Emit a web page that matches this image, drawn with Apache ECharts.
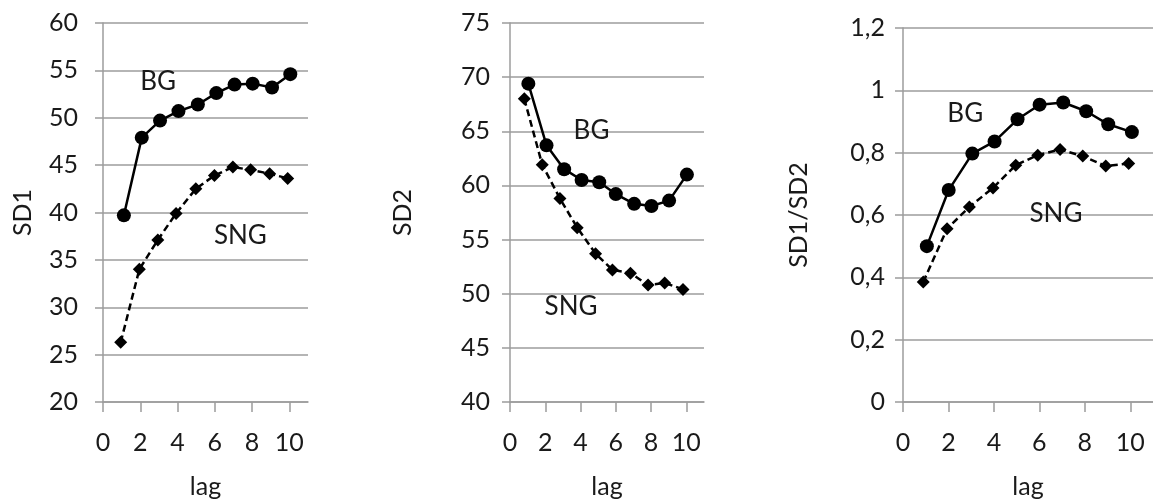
<!DOCTYPE html>
<html>
<head>
<meta charset="utf-8">
<script src="https://cdn.jsdelivr.net/npm/echarts@6/dist/echarts.min.js"></script>
<style>
  html, body { margin: 0; padding: 0; background: #fff; }
  #chart { width: 1153px; height: 504px; }
</style>
</head>
<body>
<div id="chart"></div>
<script>
// values (x of each marker is slightly offset in the original)
var xTicks = [0, 2, 4, 6, 8, 10];

var sd1BgX = [1.12, 2.08, 3.06, 4.05, 5.09, 6.08, 7.06, 8.03, 9.07, 10.05];
var sd1Bg = [39.7, 47.9, 49.7, 50.7, 51.4, 52.6, 53.5, 53.6, 53.2, 54.6];
var sd1SngX = [0.95, 1.95, 2.94, 3.92, 4.98, 5.98, 6.97, 7.92, 8.94, 9.91];
var sd1Sng = [26.3, 34.0, 37.1, 39.9, 42.5, 43.9, 44.8, 44.5, 44.1, 43.6];

var sd2BgX = [1.04, 2.07, 3.07, 4.06, 5.06, 6.0, 7.04, 8.02, 9.02, 10.03];
var sd2Bg = [69.4, 63.7, 61.5, 60.5, 60.3, 59.2, 58.3, 58.1, 58.6, 61.0];
var sd2SngX = [0.81, 1.83, 2.83, 3.81, 4.85, 5.81, 6.83, 7.83, 8.77, 9.81];
var sd2Sng = [68.0, 61.9, 58.8, 56.1, 53.7, 52.2, 51.9, 50.8, 51.0, 50.4];

var ratioBgX = [1.05, 2.01, 3.05, 4.03, 5.04, 6.01, 7.05, 8.06, 9.03, 10.07];
var ratioBg = [0.50, 0.68, 0.797, 0.836, 0.907, 0.954, 0.961, 0.933, 0.891, 0.866];
var ratioSngX = [0.89, 1.94, 2.92, 3.96, 4.96, 5.93, 6.91, 7.91, 8.92, 9.93];
var ratioSng = [0.385, 0.556, 0.626, 0.687, 0.76, 0.792, 0.81, 0.789, 0.757, 0.765];

var FONT = 'Lato, "Open Sans", sans-serif';
var TXT = '#1a1a1a';
var GRID_C = '#9c9c9c';
var FS = 25;

function pairs(xs, ys) {
  return xs.map(function (x, i) { return [x, ys[i]]; });
}

function xAxisFor(idx) {
  return {
    gridIndex: idx, type: 'value', min: 0, max: 11,
    name: 'lag', nameLocation: 'middle', nameGap: 72,
    nameTextStyle: { fontFamily: FONT, fontSize: FS, color: TXT },
    axisLine: { show: true, lineStyle: { color: GRID_C, width: 1.5 } },
    axisTick: { show: true, length: 10, customValues: xTicks, lineStyle: { color: GRID_C, width: 1.5 } },
    axisLabel: { customValues: xTicks, margin: 28, fontFamily: FONT, fontSize: FS, color: TXT },
    splitLine: { show: false }
  };
}

function yAxisFor(idx, name, min, max, step, gap, margin, comma) {
  return {
    gridIndex: idx, type: 'value', min: min, max: max, interval: step,
    name: name, nameLocation: 'middle', nameGap: gap, nameRotate: 90,
    nameTextStyle: { fontFamily: FONT, fontSize: FS, color: TXT },
    axisLine: { show: true, lineStyle: { color: GRID_C, width: 1.5 } },
    axisTick: { show: true, length: 8, lineStyle: { color: GRID_C, width: 1.5 } },
    axisLabel: {
      margin: margin, fontFamily: FONT, fontSize: FS, color: TXT,
      formatter: function (v) { return comma ? String(+v.toFixed(1)).replace('.', ',') : v; }
    },
    splitLine: { show: true, lineStyle: { color: GRID_C, width: 1.5 } }
  };
}

function note(text, coord) {
  return {
    coord: coord, value: text, symbol: 'circle', symbolSize: 0,
    label: { show: true, formatter: text, position: 'inside', fontFamily: FONT, fontSize: 26, color: TXT }
  };
}

function bgSeries(idx, data, notes) {
  return {
    type: 'line', xAxisIndex: idx, yAxisIndex: idx, data: data,
    symbol: 'circle', symbolSize: 14, color: '#000',
    lineStyle: { color: '#000', width: 2.5 }, itemStyle: { color: '#000' },
    animation: false, z: 3,
    markPoint: { data: notes, animation: false }
  };
}

function sngSeries(idx, data) {
  return {
    type: 'line', xAxisIndex: idx, yAxisIndex: idx, data: data,
    symbol: 'diamond', symbolSize: 13, color: '#000',
    lineStyle: { color: '#000', width: 2.5, type: [7, 4] }, itemStyle: { color: '#000' },
    animation: false, z: 3
  };
}

var chart = echarts.init(document.getElementById('chart'));
chart.setOption({
  backgroundColor: '#fff',
  animation: false,
  grid: [
    { left: 103, top: 23, width: 205, height: 382 },
    { left: 510, top: 23, width: 194, height: 381 },
    { left: 903, top: 28, width: 255, height: 374 }
  ],
  xAxis: [xAxisFor(0), xAxisFor(1), xAxisFor(2)],
  yAxis: [
    yAxisFor(0, 'SD1', 20, 60, 5, 68, 25, false),
    yAxisFor(1, 'SD2', 40, 75, 5, 95, 20, false),
    yAxisFor(2, 'SD1/SD2', 0, 1.2, 0.2, 92, 18, true)
  ],
  series: [
    bgSeries(0, pairs(sd1BgX, sd1Bg), [note('BG', [2.96, 53.85]), note('SNG', [7.37, 37.6])]),
    sngSeries(0, pairs(sd1SngX, sd1Sng)),
    bgSeries(1, pairs(sd2BgX, sd2Bg), [note('BG', [4.62, 65.05]), note('SNG', [3.46, 48.8])]),
    sngSeries(1, pairs(sd2SngX, sd2Sng)),
    bgSeries(2, pairs(ratioBgX, ratioBg), [note('BG', [2.74, 0.925]), note('SNG', [6.73, 0.605])]),
    sngSeries(2, pairs(ratioSngX, ratioSng))
  ]
});
</script>
</body>
</html>
